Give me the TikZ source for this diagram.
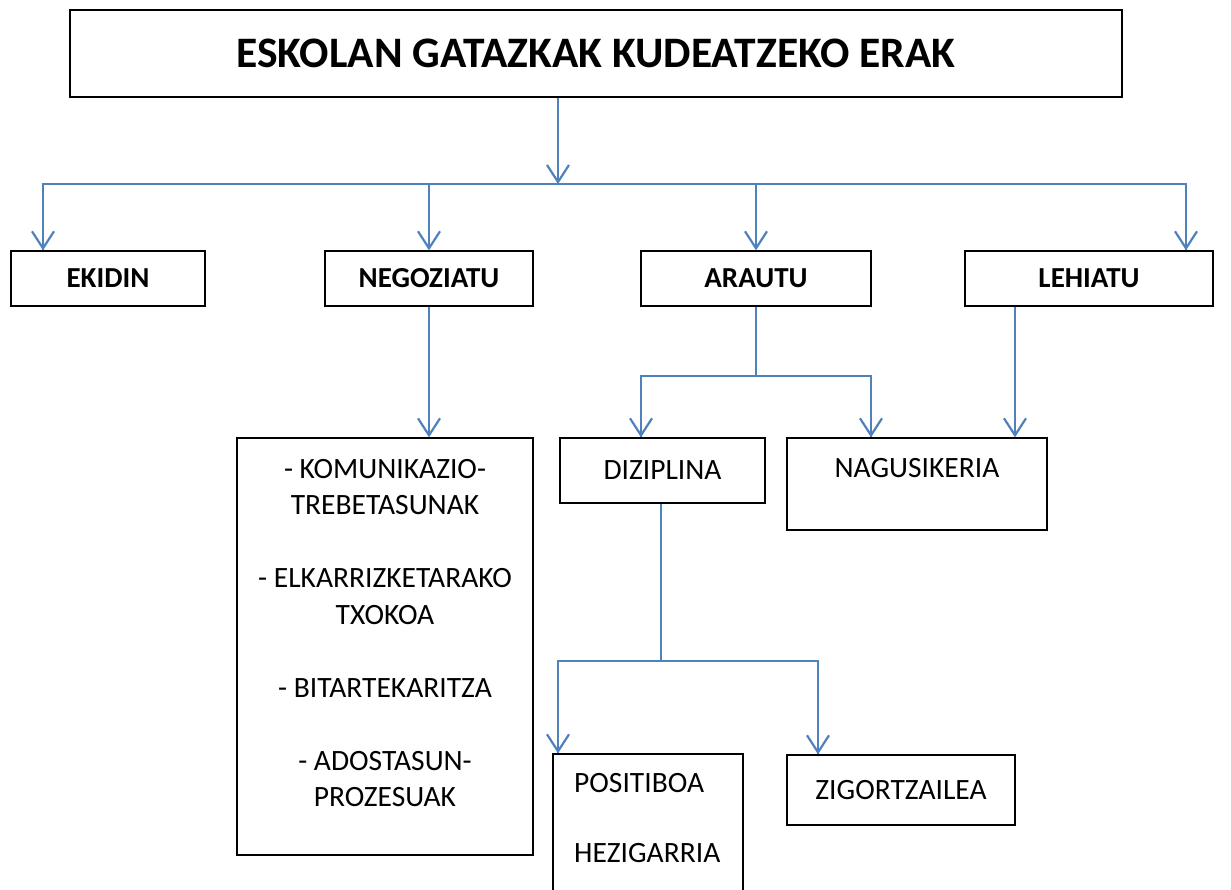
\documentclass[tikz,border=0pt]{standalone}
\usepackage{fontspec}
\setmainfont{Carlito}
\usetikzlibrary{arrows.meta}

\definecolor{linkblue}{RGB}{79,129,189}

\begin{document}
\begin{tikzpicture}[x=1pt, y=-1pt,
    >={Straight Barb[length=17pt,width=22pt]},
    box/.style={draw, line width=1.3pt, inner sep=0pt},
    link/.style={linkblue, line width=2.2pt},
    arr/.style={link, ->},
    lbl/.style={font=\fontsize{29.5}{36.5}\selectfont},
    hd/.style={font=\fontsize{29}{34}\selectfont\bfseries}
  ]
  \useasboundingbox (0,0) rectangle (1231,890);
  \clip (0,0) rectangle (1231,890);

  % title
  \node[box, minimum width=1052pt, minimum height=87pt,
        font=\fontsize{43.5}{50}\selectfont\bfseries] (title) at (596,53.5)
        {ESKOLAN GATAZKAK KUDEATZEKO ERAK};

  % first level
  \node[box, hd, minimum width=194pt, minimum height=55pt] (ekidin)    at (108,278.5)  {EKIDIN};
  \node[box, hd, minimum width=208pt, minimum height=55pt] (negoziatu) at (429,278.5)  {NEGOZIATU};
  \node[box, hd, minimum width=230pt, minimum height=55pt] (arautu)    at (756,278.5)  {ARAUTU};
  \node[box, hd, minimum width=248pt, minimum height=55pt] (lehiatu)   at (1089,278.5) {LEHIATU};

  % second level
  \node[box, minimum width=296pt, minimum height=417pt] (list) at (385,646.5) {};
  \node[lbl, align=center] (listtxt) at (385,633)
    {- KOMUNIKAZIO-\\TREBETASUNAK\\[36.5pt]- ELKARRIZKETARAKO\\TXOKOA\\[36.5pt]%
     - BITARTEKARITZA\\[36.5pt]- ADOSTASUN-\\PROZESUAK};
  \node[box, lbl, minimum width=205pt, minimum height=65pt] (diziplina) at (662.5,470.5) {DIZIPLINA};
  \node[box, minimum width=260pt, minimum height=92pt] (nagusi) at (917,484) {};
  \node[lbl] (nagusitxt) at (917,468) {NAGUSIKERIA};

  % third level
  \node[box, minimum width=190pt, minimum height=150pt] (positiboa) at (648,829) {};
  \node[lbl, align=left, anchor=west, inner sep=0pt] (positxt) at (574,818)
    {POSITIBOA\\[33pt]HEZIGARRIA};
  \node[box, lbl, minimum width=228pt, minimum height=70pt] (zigor) at (901,790) {ZIGORTZAILEA};

  % connectors
  \coordinate (j0)   at (558,184);
  \coordinate (busL) at (43,184);
  \coordinate (busR) at (1186,184);
  \draw[arr] (j0 |- title.south) -- (j0);
  \draw[link] (busL |- ekidin.north) -- (busL) -- (busR) -- (busR |- lehiatu.north);
  \draw[arr] (busL) -- (busL |- ekidin.north);
  \draw[arr] (negoziatu.north |- busL) -- (negoziatu.north);
  \draw[arr] (arautu.north |- busL) -- (arautu.north);
  \draw[arr] (busR) -- (busR |- lehiatu.north);

  \draw[arr] (negoziatu.south) -- (negoziatu.south |- list.north);

  \coordinate (a1) at (641,376);
  \coordinate (a2) at (871,376);
  \draw[link] (arautu.south) -- (arautu.south |- a1);
  \draw[link] (a1 |- diziplina.north) -- (a1) -- (a2) -- (a2 |- nagusi.north);
  \draw[arr] (a1) -- (a1 |- diziplina.north);
  \draw[arr] (a2) -- (a2 |- nagusi.north);

  \coordinate (l1) at (1015,306);
  \draw[arr] (l1 |- lehiatu.south) -- (l1 |- nagusi.north);

  \coordinate (dz) at (661,661);
  \coordinate (d1) at (558,661);
  \coordinate (d2) at (818,661);
  \draw[link] (dz |- diziplina.south) -- (dz);
  \draw[link] (d1 |- positiboa.north) -- (d1) -- (d2) -- (d2 |- zigor.north);
  \draw[arr] (d1) -- (d1 |- positiboa.north);
  \draw[arr] (d2) -- (d2 |- zigor.north);
\end{tikzpicture}
\end{document}
